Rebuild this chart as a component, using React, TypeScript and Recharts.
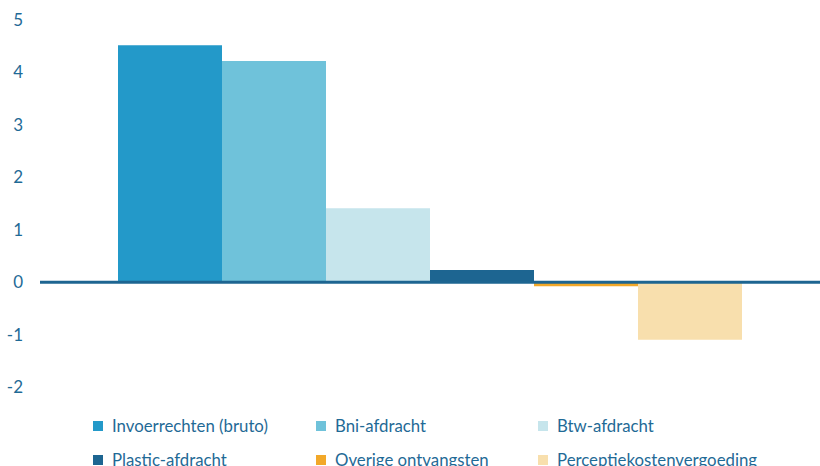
import { BarChart, Bar, XAxis, YAxis, ReferenceLine, Legend } from 'recharts';

const SERIES = [
  'Invoerrechten (bruto)',
  'Bni-afdracht',
  'Btw-afdracht',
  'Plastic-afdracht',
  'Overige ontvangsten',
  'Perceptiekostenvergoeding',
];
const VALUES = [4.52, 4.22, 1.41, 0.23, -0.08, -1.1];
const Y_TICKS = [-2, -1, 0, 1, 2, 3, 4, 5];

const COLORS = ['#2399c9', '#6fc2da', '#c6e5ec', '#1d6591', '#f2a829', '#f8dfad'];
const TEXT = '#1f6a96';
const FONT = 'Lato, "Open Sans", sans-serif';

const row: Record<string, string | number> = { name: 'totaal' };
SERIES.forEach((s, i) => {
  row[s] = VALUES[i];
});
const data = [row];

const COL_X = [93, 316, 538];

function LegendContent() {
  return (
    <div style={{ position: 'relative', width: 820, height: 70 }}>
      {SERIES.map((s, i) => (
        <div
          key={s}
          style={{
            position: 'absolute',
            left: COL_X[i % 3],
            top: Math.floor(i / 3) * 34,
            display: 'flex',
            alignItems: 'center',
            fontFamily: FONT,
            fontSize: 16.8,
            color: TEXT,
            whiteSpace: 'nowrap',
            lineHeight: '20px',
          }}
        >
          <span
            style={{ width: 10, height: 10, background: COLORS[i], display: 'inline-block', marginRight: 9 }}
          />
          {s}
        </div>
      ))}
    </div>
  );
}

export default function App() {
  return (
    <div style={{ position: 'fixed', left: 0, top: 0, width: 820, height: 466, background: '#fff', overflow: 'hidden' }}>
      <BarChart
        width={820}
        height={466}
        data={data}
        margin={{ top: 20, right: 0, left: 0, bottom: 9 }}
        barCategoryGap="10%"
        barGap={0}
      >
        <XAxis dataKey="name" hide />
        <YAxis
          domain={[-2, 5]}
          ticks={Y_TICKS}
          width={40}
          axisLine={false}
          tickLine={false}
          tickMargin={11}
          tick={{ fill: TEXT, fontSize: 17, fontFamily: FONT }}
        />
        {SERIES.map((s, i) => (
          <Bar key={s} dataKey={s} fill={COLORS[i]} isAnimationActive={false} />
        ))}
        <ReferenceLine y={0} stroke="#1d6591" strokeWidth={3} />
        <Legend
          content={<LegendContent />}
          wrapperStyle={{ left: 0, top: 416, width: 820 }}
        />
      </BarChart>
    </div>
  );
}
